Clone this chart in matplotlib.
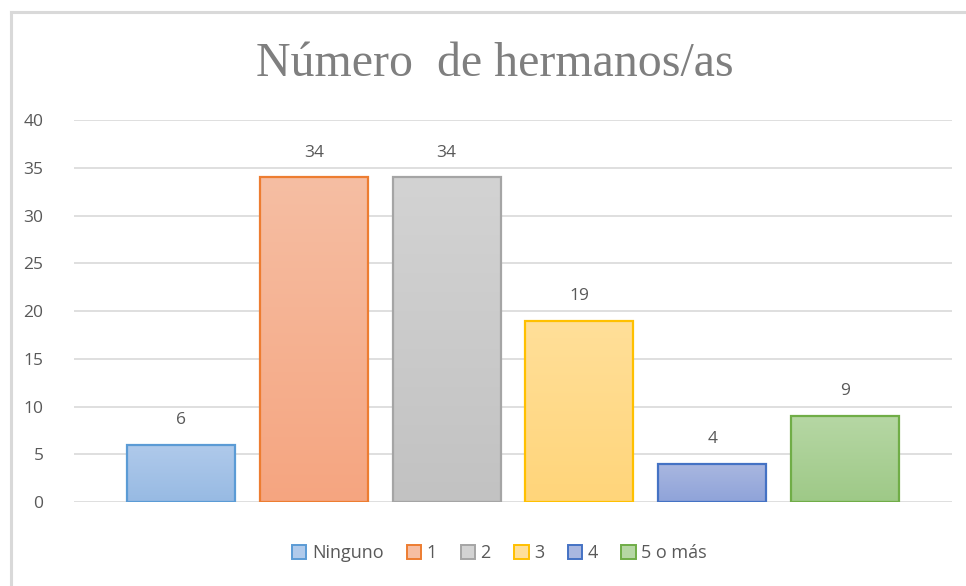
import matplotlib.pyplot as plt
import numpy as np
from matplotlib.colors import LinearSegmentedColormap
from matplotlib.patches import Rectangle
from matplotlib.lines import Line2D

# data
categories = ['Ninguno', '1', '2', '3', '4', '5 o más']
values = [6, 34, 34, 19, 4, 9]
edge_colors = ['#5B9BD5', '#ED7D31', '#A5A5A5', '#FFC000', '#4472C4', '#70AD47']
top_colors = ['#B0CAEB', '#F6BEA3', '#D3D3D3', '#FFDF99', '#A9B7E0', '#B6D7A4']
bottom_colors = ['#97BAE3', '#F5A580', '#C2C2C2', '#FFD57A', '#8FA3D9', '#9EC987']

fig = plt.figure(figsize=(9.66, 5.86), dpi=100)
ax = fig.add_axes([0.0766, 0.1433, 0.9089, 0.6519])

# outer frame lines like the Excel chart border (left and top only)
fig.add_artist(Line2D([10.5 / 966, 10.5 / 966], [0, 1 - 12 / 586], color='#D9D9D9', lw=2.2))
fig.add_artist(Line2D([10.5 / 966, 1], [1 - 12 / 586, 1 - 12 / 586], color='#D9D9D9', lw=2.2))

x = np.arange(len(categories))
width = 0.813
grad = np.linspace(1, 0, 256).reshape(-1, 1)
handles = []
for i, v in enumerate(values):
    cmap = LinearSegmentedColormap.from_list(f'g{i}', [bottom_colors[i], top_colors[i]])
    im = ax.imshow(grad, cmap=cmap, aspect='auto', zorder=2,
                   extent=[x[i] - width / 2, x[i] + width / 2, 0, v])
    rect = Rectangle((x[i] - width / 2, 0), width, v, facecolor='none',
                     edgecolor=edge_colors[i], lw=1.6, zorder=3)
    ax.add_patch(rect)
    im.set_clip_path(rect)
    ax.annotate(str(v), (x[i], v), xytext=(0, 12), textcoords='offset points',
                ha='center', va='bottom', fontsize=12.5, color='#595959',
                family='Open Sans')
    handles.append(Rectangle((0, 0), 1, 1, facecolor=top_colors[i],
                             edgecolor=edge_colors[i], lw=1.4))

ax.set_xlim(-0.806, 5.806)
ax.set_ylim(0, 40)
ax.set_yticks(range(0, 41, 5))
ax.set_xticks([])
ax.yaxis.grid(True, color='#D9D9D9', lw=1.2)
ax.set_axisbelow(True)
for s in ax.spines.values():
    s.set_visible(False)
ax.tick_params(axis='y', length=0, pad=22, labelsize=12.5, labelcolor='#595959')
for lab in ax.get_yticklabels():
    lab.set_family('Open Sans')

fig.text(495 / 966, 1 - 64 / 586, 'Número  de hermanos/as', ha='center', va='center',
         fontsize=34.5, color='#7F7F7F', family='Liberation Serif')

leg = fig.legend(handles, categories, loc='center', bbox_to_anchor=(0.517, 1 - 553 / 586),
                 ncol=6, frameon=False, handlelength=0.8, handleheight=0.8,
                 handletextpad=0.3, columnspacing=1.3,
                 prop={'family': 'Open Sans', 'size': 13})
for t in leg.get_texts():
    t.set_color('#595959')

fig.savefig('out.png', dpi=100)
